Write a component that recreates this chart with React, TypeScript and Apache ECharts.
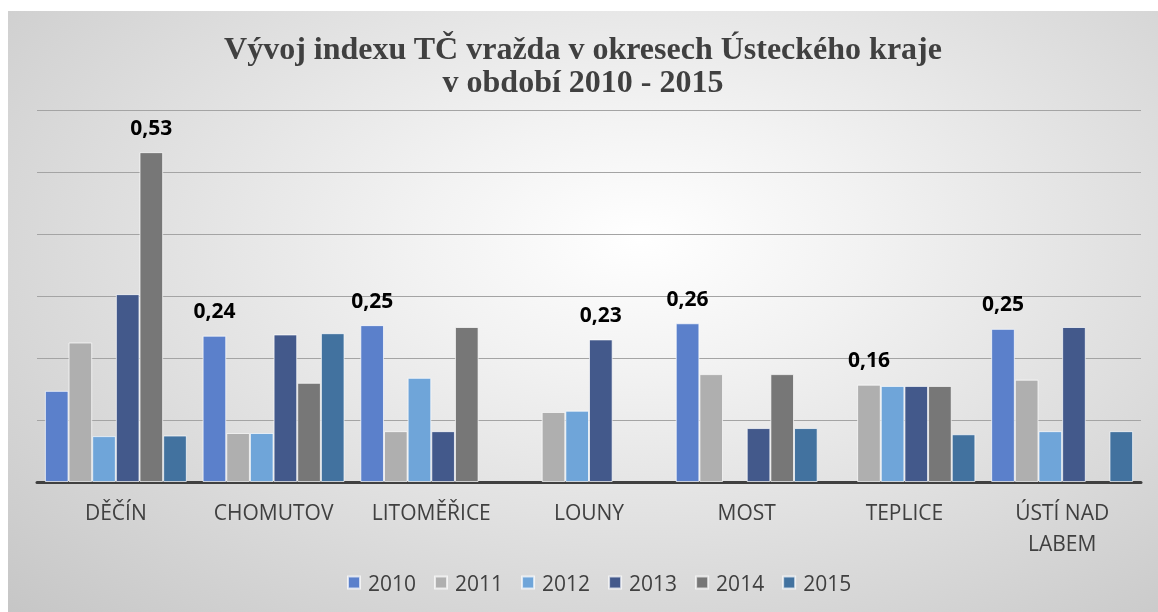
import React, { useEffect, useRef } from "react";
import * as echarts from "echarts";

const categories = ["DĚČÍN", "CHOMUTOV", "LITOMĚŘICE", "LOUNY", "MOST", "TEPLICE", "ÚSTÍ NAD\nLABEM"];
const years = ["2010", "2011", "2012", "2013", "2014", "2015"];

const v2010 = [0.147, 0.236, 0.253, 0, 0.256, 0, 0.247];
const v2011 = [0.225, 0.079, 0.082, 0.113, 0.174, 0.157, 0.165];
const v2012 = [0.074, 0.079, 0.168, 0.115, 0, 0.155, 0.082];
const v2013 = [0.303, 0.238, 0.082, 0.23, 0.087, 0.155, 0.25];
const v2014 = [0.532, 0.16, 0.25, 0, 0.174, 0.155, 0];
const v2015 = [0.075, 0.24, 0, 0, 0.087, 0.077, 0.082];

// which (series index, category index) pairs carry a value label
const labelled: [number, number][] = [
  [4, 0],
  [0, 1],
  [0, 2],
  [3, 3],
  [0, 4],
  [1, 5],
  [0, 6],
];

const seriesValues = [v2010, v2011, v2012, v2013, v2014, v2015];
const colors = ["#5b80cb", "#afafaf", "#6fa5d9", "#43598b", "#777777", "#42729f"];

export default function App() {
  const ref = useRef<HTMLDivElement>(null);
  useEffect(() => {
    if (!ref.current) return;
    const chart = echarts.init(ref.current, null, { renderer: "svg" });
    const series = seriesValues.map((vals, si) => ({
      name: years[si],
      type: "bar",
      barGap: "0%",
      barCategoryGap: "10%",
      itemStyle: {
        color: colors[si],
        borderColor: "rgba(255,255,255,0.7)",
        borderWidth: 1,
      },
      data: vals.map((v, ci) => {
        const has = labelled.some(([s, c]) => s === si && c === ci);
        if (v === 0) return null;
        return has
          ? {
              value: v,
              label: {
                show: true,
                position: "top",
                distance: 15,
                fontFamily: "Open Sans",
                fontWeight: "bold",
                fontSize: 21,
                color: "#000000",
                formatter: (p: any) => Number(p.value).toFixed(2).replace(".", ","),
              },
            }
          : v;
      }),
    }));
    chart.setOption({
      animation: false,
      backgroundColor: "transparent",
      color: colors,
      title: {
        text: "Vývoj indexu TČ vražda v okresech Ústeckého kraje\nv období 2010 - 2015",
        left: "center",
        top: 20,
        padding: 0,
        textStyle: {
          fontFamily: "Liberation Serif",
          fontWeight: "bold",
          fontSize: 32,
          lineHeight: 33,
          color: "#404040",
          align: "center",
        },
      },
      legend: {
        data: years,
        bottom: 19,
        left: 339,
        padding: 0,
        icon: "rect",
        itemWidth: 12,
        itemHeight: 12,
        itemGap: 18,
        textStyle: {
          fontFamily: "Open Sans",
          fontSize: 21,
          color: "#404040",
          padding: [0, 0, 0, 3],
        },
      },
      grid: { left: 29, right: 17, top: 99, bottom: 130, containLabel: false },
      xAxis: {
        type: "category",
        data: categories,
        axisLine: { lineStyle: { color: "#404040", width: 3 } },
        axisTick: { show: false },
        axisLabel: {
          fontFamily: "Open Sans",
          fontSize: 21,
          color: "#404040",
          margin: 14,
          lineHeight: 31,
          interval: 0,
        },
      },
      yAxis: {
        type: "value",
        min: 0,
        max: 0.6,
        interval: 0.1,
        axisLabel: { show: false },
        axisLine: { show: false },
        axisTick: { show: false },
        splitLine: { lineStyle: { color: "#a4a4a4", width: 1 } },
      },
      series,
    });
    return () => chart.dispose();
  }, []);
  return (
    <div
      ref={ref}
      style={{
        position: "fixed",
        left: 8,
        top: 11,
        width: 1150,
        height: 601,
        background:
          "radial-gradient(ellipse farthest-corner at 55% 38%, #ffffff 0%, #f2f2f2 25%, #c6c6c6 100%)",
      }}
    />
  );
}
